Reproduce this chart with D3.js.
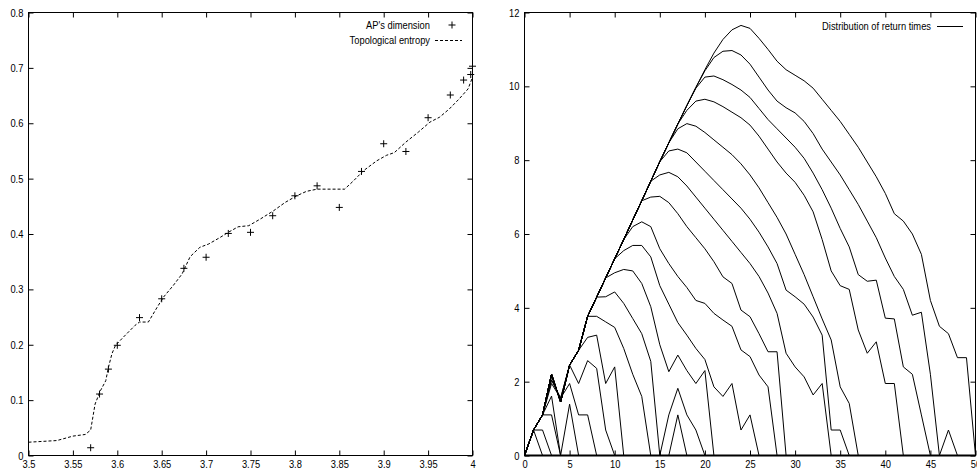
<!DOCTYPE html>
<html><head><meta charset="utf-8">
<script src="https://cdn.jsdelivr.net/npm/d3@7"></script>
<style>
body{margin:0;background:#fff;}
svg text{font-family:"Liberation Sans",Arial,Helvetica,sans-serif;font-size:11px;fill:#000;}
</style></head><body>
<svg id="c" width="977" height="476"></svg>
<script>
// ---------- Left panel data ----------
const apX = [3.57,3.58,3.59,3.6,3.625,3.65,3.675,3.7,3.725,3.75,3.775,3.8,3.825,3.85,3.875,3.9,3.925,3.95,3.975,3.99,3.998,4.0];
const apY = [0.014,0.111,0.156,0.199,0.249,0.283,0.338,0.358,0.401,0.403,0.433,0.469,0.487,0.448,0.513,0.563,0.549,0.610,0.651,0.678,0.688,0.703];
const topoX = [3.5,3.532,3.55,3.564,3.57,3.575,3.581,3.587,3.59,3.594,3.598,3.607,3.62,3.625,3.635,3.645,3.652,3.663,3.673,3.682,3.693,3.703,3.716,3.725,3.736,3.748,3.761,3.776,3.789,3.802,3.813,3.825,3.856,3.866,3.877,3.892,3.903,3.912,3.925,3.939,3.952,3.963,3.974,3.985,3.995,4.0];
const topoY = [0.024,0.027,0.035,0.038,0.046,0.093,0.117,0.135,0.159,0.184,0.199,0.214,0.235,0.241,0.241,0.268,0.286,0.307,0.328,0.359,0.376,0.382,0.394,0.403,0.413,0.415,0.427,0.442,0.457,0.469,0.477,0.481,0.481,0.496,0.514,0.532,0.542,0.547,0.566,0.584,0.602,0.611,0.626,0.644,0.662,0.683];
const leftXTicks = [3.5,3.55,3.6,3.65,3.7,3.75,3.8,3.85,3.9,3.95,4];
const leftXLabels = ["3.5","3.55","3.6","3.65","3.7","3.75","3.8","3.85","3.9","3.95","4"];
const leftYTicks = [0,0.1,0.2,0.3,0.4,0.5,0.6,0.7,0.8];
const leftYLabels = ["0","0.1","0.2","0.3","0.4","0.5","0.6","0.7","0.8"];
const leftLegend = ["AP's dimension","Topological entropy"];

// ---------- Right panel data ----------
const envelope = [0,0.69,1.10,2.20,1.45,2.45,2.85,3.77,4.29,4.81,5.33,5.85,6.38,6.90,7.43,7.96,8.47,8.98,9.48,9.97,10.45,10.90,11.27,11.53,11.65];
const branchAt = [25,20,19,18,17,16,15,14,12,11,10,9,8,3,3,3,3,3,2,2];
const tails = [
 [11.57,11.30,11.00,10.68,10.45,10.30,10.15,9.95,9.65,9.35,9.05,8.70,8.35,7.95,7.55,7.10,6.55,6.35,6.00,5.45,4.20,3.50,3.30,2.65,2.65,0],
 [10.42,10.78,10.95,10.97,10.85,10.60,10.25,9.90,9.60,9.42,9.28,9.05,8.72,8.30,7.95,7.60,7.20,6.80,6.35,5.90,5.35,4.85,4.50,3.80,3.88,2.20,0,0.69,0],
 [9.95,10.25,10.28,10.18,10.05,9.90,9.70,9.40,9.10,8.85,8.60,8.35,8.05,7.65,7.20,6.70,6.15,5.65,4.90,4.72,4.75,3.72,3.70,2.40,2.20,1.10,0],
 [9.35,9.60,9.65,9.58,9.45,9.30,9.15,8.95,8.65,8.30,7.95,7.65,7.40,7.05,6.60,5.85,5.00,4.60,4.50,3.40,2.77,3.08,1.95,1.95,0],
 [8.85,8.99,8.92,8.75,8.55,8.35,8.15,7.90,7.60,7.25,6.85,6.45,6.00,5.45,4.90,4.30,3.70,3.13,1.86,1.41,0],
 [8.25,8.30,8.20,7.95,7.70,7.45,7.20,6.95,6.70,6.40,6.05,5.65,5.20,4.48,4.30,4.10,3.75,3.26,0.69,0.69,0],
 [7.60,7.67,7.55,7.30,7.00,6.70,6.40,6.10,5.80,5.50,5.20,4.85,4.40,3.85,2.77,2.40,2.13,1.64,1.95,0],
 [7.00,7.02,6.85,6.55,6.20,5.90,5.60,5.25,4.84,4.66,3.94,3.76,3.30,2.81,2.81,0],
 [6.20,6.33,6.20,5.60,5.20,4.85,4.55,4.20,4.12,3.85,3.67,3.50,2.86,2.68,2.18,1.86,0],
 [5.55,5.69,5.69,5.38,4.60,4.10,3.60,3.26,2.90,2.60,1.86,1.60,1.95,0.69,1.10,0],
 [4.95,5.04,5.00,4.66,4.03,3.00,2.27,2.72,2.30,1.95,2.30,0],
 [4.30,4.43,4.12,3.71,3.30,2.55,0,1.10,1.82,1.10,0.69,0],
 [3.77,3.62,3.47,2.90,2.20,1.60,0,0,0,1.10,0],
 [2.05,1.55,2.45,2.85,3.20,3.26,1.95,2.40,0],
 [2.05,1.55,2.45,1.95,2.57,2.36,0.69,0],
 [1.95,1.55,1.95,1.10,1.10,0],
 [1.61,0,1.39,0],
 [1.10,0],
 [0.69,0],
 [0]
];
const rightXTicks = [0,5,10,15,20,25,30,35,40,45,50];
const rightYTicks = [0,2,4,6,8,10,12];
const rightLegend = "Distribution of return times";

// ---------- Drawing ----------
const svg = d3.select("#c");
const FONT = '"Liberation Sans",Arial,Helvetica,sans-serif';
const SX = 0.85; // horizontal compression of the reference lettering

function frame(g, x0, x1, y0, y1, xs, ys, xt, xl, yt, yl) {
  const b = g.append("g").attr("transform", `translate(0,${y1})`)
    .call(d3.axisBottom(xs).tickValues(xt).tickFormat((d,i)=>xl[i]).tickSizeInner(-5).tickSizeOuter(0).tickPadding(5));
  const t = g.append("g").attr("transform", `translate(0,${y0})`)
    .call(d3.axisTop(xs).tickValues(xt).tickFormat("").tickSizeInner(-5).tickSizeOuter(0));
  const l = g.append("g").attr("transform", `translate(${x0},0)`)
    .call(d3.axisLeft(ys).tickValues(yt).tickFormat((d,i)=>yl[i]).tickSizeInner(-5).tickSizeOuter(0).tickPadding(6));
  const r = g.append("g").attr("transform", `translate(${x1},0)`)
    .call(d3.axisRight(ys).tickValues(yt).tickFormat("").tickSizeInner(-5).tickSizeOuter(0));
  [b,t,l,r].forEach(a => {
    a.attr("font-family", FONT).attr("font-size", 11);
    a.select(".domain").remove();
    a.selectAll("line").attr("stroke","#000");
    a.selectAll("text").attr("fill","#000").attr("transform", `scale(${SX},1)`);
  });
  g.append("rect").attr("x",x0).attr("y",y0).attr("width",x1-x0).attr("height",y1-y0)
    .attr("fill","none").attr("stroke","#000").attr("stroke-width",1);
}

function label(g, x, y, s) {
  g.append("text").attr("transform", `translate(${x},${y}) scale(${SX},1)`)
    .attr("text-anchor","end").text(s);
}

// Left panel
const L = {x0:28.5, x1:472.5, y0:12.5, y1:455.5};
const lx = d3.scaleLinear().domain([3.5,4]).range([L.x0, L.x1]);
const ly = d3.scaleLinear().domain([0,0.8]).range([L.y1, L.y0]);
const gl = svg.append("g");
frame(gl, L.x0, L.x1, L.y0, L.y1, lx, ly, leftXTicks, leftXLabels, leftYTicks, leftYLabels);

gl.append("path")
  .attr("d", d3.line().x(d=>lx(d[0])).y(d=>ly(d[1]))(topoX.map((x,i)=>[x,topoY[i]])))
  .attr("fill","none").attr("stroke","#000").attr("stroke-width",1).attr("stroke-dasharray","3,2");

const plus = (g, cx, cy) => {
  g.append("path").attr("d", `M${cx-3.5},${cy}H${cx+3.5}M${cx},${cy-3.5}V${cy+3.5}`)
    .attr("stroke","#000").attr("stroke-width",1).attr("fill","none");
};
apX.forEach((x,i)=>plus(gl, lx(x), ly(apY[i])));

// left legend
label(gl, 430, 29, leftLegend[0]);
plus(gl, 452, 25);
label(gl, 430, 44, leftLegend[1]);
gl.append("line").attr("x1",435).attr("x2",462).attr("y1",40.5).attr("y2",40.5)
  .attr("stroke","#000").attr("stroke-dasharray","3,2");

// Right panel
const R = {x0:524.5, x1:975.5, y0:12.5, y1:455.5};
const rx = d3.scaleLinear().domain([0,50]).range([R.x0, R.x1]);
const ry = d3.scaleLinear().domain([0,12]).range([R.y1, R.y0]);
const gr = svg.append("g");
frame(gr, R.x0, R.x1, R.y0, R.y1, rx, ry, rightXTicks, rightXTicks.map(String), rightYTicks, rightYTicks.map(String));

const line = d3.line().x(d=>rx(d[0])).y(d=>ry(d[1]));
tails.forEach((tl,k)=>{
  const b = branchAt[k];
  const pts = envelope.slice(0,b).map((y,i)=>[i,y]).concat(tl.map((y,j)=>[b+j,y]));
  gr.append("path").attr("d", line(pts)).attr("fill","none").attr("stroke","#000").attr("stroke-width",1);
});
gr.append("line").attr("x1",R.x0).attr("x2",R.x1).attr("y1",R.y1).attr("y2",R.y1)
  .attr("stroke","#000").attr("stroke-width",2);

label(gr, 931, 30, rightLegend);
gr.append("line").attr("x1",937).attr("x2",963).attr("y1",26.5).attr("y2",26.5).attr("stroke","#000");
</script>
</body></html>
